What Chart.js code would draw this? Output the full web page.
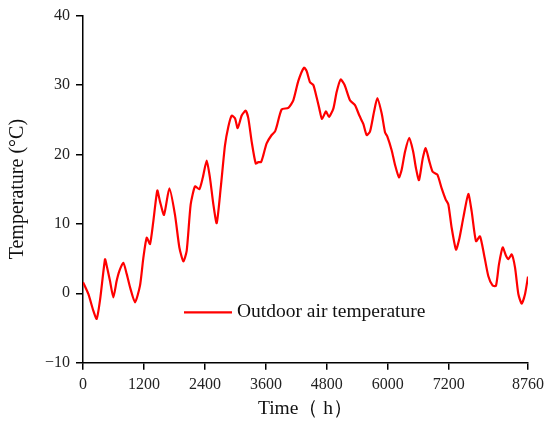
<!DOCTYPE html>
<html>
<head>
<meta charset="utf-8">
<script src="https://cdn.jsdelivr.net/npm/chart.js@4"></script>
<style>
html,body{margin:0;padding:0;background:#fff;}
#wrap{width:550px;height:423px;position:relative;}
</style>
</head>
<body>
<div id="wrap"><canvas id="c"></canvas></div>
<script>
const hours = [0,105,203,269,335,433,460,531,597,663,715,794,860,925,1024,1122,1188,1254,1319,1385,1463,1516,1595,1700,1811,1897,1975,2041,2120,2205,2290,2356,2435,2500,2566,2632,2710,2795,2861,2927,2992,3045,3124,3203,3255,3321,3400,3452,3504,3550,3615,3714,3780,3812,3911,4042,4140,4239,4350,4403,4469,4534,4600,4652,4705,4783,4842,4928,4993,5072,5150,5256,5354,5440,5518,5584,5650,5728,5794,5880,5945,5990,6076,6142,6220,6273,6339,6423,6500,6555,6614,6687,6746,6818,6883,6975,7061,7140,7192,7258,7343,7409,7487,7585,7651,7736,7815,7894,7978,8065,8130,8189,8262,8327,8373,8439,8505,8570,8636,8702,8760];
const temps = [1.6,-0.1,-2.5,-3.7,-1.0,4.9,4.2,1.8,-0.6,1.8,3.2,4.4,2.8,0.9,-1.3,1.1,5.1,8.0,7.1,10.4,14.8,13.2,11.3,15.1,11.3,6.6,4.6,6.1,12.8,15.4,15.0,16.6,19.1,16.6,12.8,10.1,15.1,21.3,24.0,25.6,25.2,23.8,25.6,26.3,25.2,21.8,18.7,18.9,18.9,19.9,21.6,22.8,23.3,24.0,26.5,26.7,27.8,30.6,32.5,32.0,30.4,30.0,28.2,26.6,25.1,26.2,25.4,26.6,29.0,30.8,30.0,27.8,27.1,25.6,24.4,22.8,23.3,26.1,28.1,25.9,23.2,22.6,20.6,18.5,16.7,17.8,20.4,22.4,20.4,18.0,16.3,19.4,20.9,19.0,17.5,17.1,15.1,13.5,12.8,9.4,6.3,7.9,10.9,14.3,11.8,7.5,8.2,5.6,2.5,1.1,1.1,4.2,6.6,5.4,4.9,5.6,3.7,-0.1,-1.5,-0.1,2.4];
const xTicks = [0,1200,2400,3600,4800,6000,7200,8760];
const yTicks = [-10,0,10,20,30,40];
const seriesName = 'Outdoor air temperature';
const xTitle = 'Time（ h）';
const yTitle = 'Temperature (°C)';

const serif = "'Liberation Serif','Times New Roman',serif";

const legendPlugin = {
  id: 'inLegend',
  afterDraw(chart) {
    const ctx = chart.ctx;
    const a = chart.chartArea;
    const y = a.top + (a.bottom - a.top) * 0.855;
    const x0 = a.left + 101;
    ctx.save();
    ctx.strokeStyle = '#ff0000';
    ctx.lineWidth = 2.2;
    ctx.beginPath();
    ctx.moveTo(x0, y);
    ctx.lineTo(x0 + 48, y);
    ctx.stroke();
    ctx.fillStyle = '#111';
    ctx.font = '19.5px ' + serif;
    ctx.textBaseline = 'middle';
    ctx.textAlign = 'left';
    ctx.fillText(seriesName, x0 + 53, y);
    ctx.restore();
  }
};

new Chart(document.getElementById('c'), {
  type: 'line',
  data: {
    datasets: [{
      label: seriesName,
      data: hours.map((h, i) => ({x: h, y: temps[i]})),
      borderColor: '#ff0000',
      borderWidth: 2.2,
      pointRadius: 0,
      tension: 0.2,
      fill: false
    }]
  },
  options: {
    responsive: true,
    maintainAspectRatio: false,
    animation: false,
    devicePixelRatio: 1,
    layout: {padding: {top: 13, right: 22, bottom: 0, left: 0}},
    plugins: {legend: {display: false}, tooltip: {enabled: false}},
    scales: {
      x: {
        type: 'linear', min: 0, max: 8760,
        afterBuildTicks(s) { s.ticks = xTicks.map(v => ({value: v})); },
        afterFit(s) { s.height = 60.3; },
        grid: {display: true, drawOnChartArea: false, drawTicks: true, tickLength: 7, color: '#000', lineWidth: 1.5},
        border: {display: true, color: '#000', width: 1.5},
        ticks: {color: '#222', font: {family: serif, size: 16}, padding: 5, maxRotation: 0, autoSkip: false,
          callback: v => String(v)},
        title: {display: true, text: xTitle, color: '#111', font: {family: serif, size: 19.5}, padding: {top: 0, bottom: 2}}
      },
      y: {
        type: 'linear', min: -10, max: 40,
        afterBuildTicks(s) { s.ticks = yTicks.map(v => ({value: v})); },
        afterFit(s) { s.width = 83; },
        grid: {display: true, drawOnChartArea: false, drawTicks: true, tickLength: 7, color: '#000', lineWidth: 1.5},
        border: {display: true, color: '#000', width: 1.5},
        ticks: {color: '#222', font: {family: serif, size: 16}, padding: 6,
          callback: v => (v < 0 ? '\u2212' + Math.abs(v) : String(v))},
        title: {display: true, text: yTitle, color: '#111', font: {family: serif, size: 20}, padding: {top: 6, bottom: 0}}
      }
    }
  },
  plugins: [legendPlugin]
});
</script>
</body>
</html>
